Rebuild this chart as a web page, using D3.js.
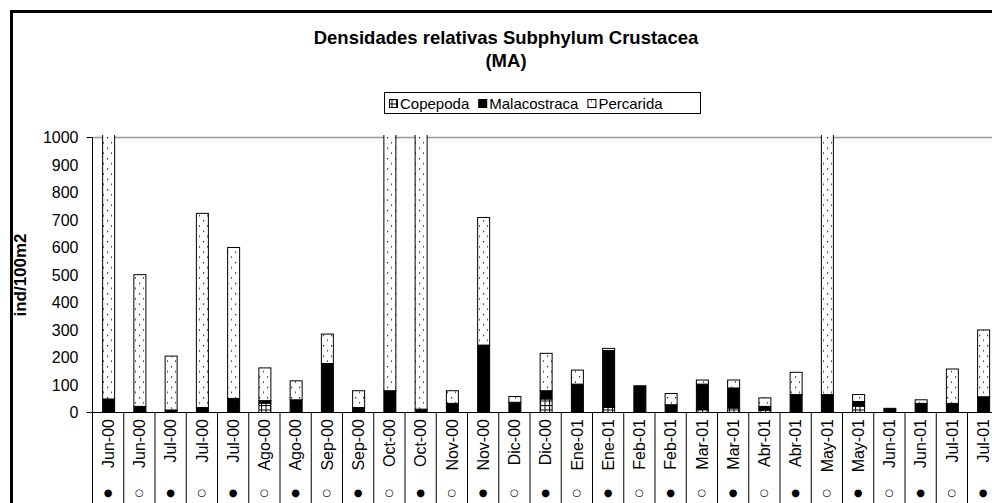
<!DOCTYPE html>
<html><head><meta charset="utf-8">
<script src="https://cdn.jsdelivr.net/npm/d3@7"></script>
<style>
html,body{margin:0;padding:0;background:#fff;}
svg{display:block;}
text{font-family:"Liberation Sans",Arial,sans-serif;fill:#000;}
</style></head>
<body>
<svg id="chart" width="992" height="503"></svg>
<script>
const categories = ["Jun-00","Jun-00","Jul-00","Jul-00","Jul-00","Ago-00","Ago-00","Sep-00","Sep-00","Oct-00","Oct-00","Nov-00","Nov-00","Dic-00","Dic-00","Ene-01","Ene-01","Feb-01","Feb-01","Mar-01","Mar-01","Abr-01","Abr-01","May-01","May-01","Jun-01","Jun-01","Jul-01","Jul-01"];
const markers = ["●","○","●","○","●","○","●","○","●","○","●","○","●","○","●","○","●","○","●","○","●","○","●","○","●","○","●","○","●"];
const copepoda =     [0,6,0,0,0,36,0,0,0,0,0,0,0,0,51,0,20,0,0,13,18,11,0,0,25,0,0,0,0];
const malacostraca = [51,18,11,20,53,9,48,180,20,81,14,35,247,39,30,105,207,99,30,92,73,13,67,67,17,17,35,35,59];
const percarida =    [1950,479,196,706,549,119,69,107,61,1900,1900,46,464,21,136,51,8,0,41,15,29,31,81,1900,25,0,13,125,243];
const seriesNames = ["Copepoda","Malacostraca","Percarida"];
const yTicks = [0,100,200,300,400,500,600,700,800,900,1000];

(function(){
const svg = d3.select("#chart");
const W = 992, H = 503;
const pLeft = 92.5, pTop = 137.5, pBottom = 412.5;
const step = 31.25;

const x = d3.scaleBand().domain(d3.range(categories.length))
  .range([pLeft, pLeft + step*categories.length]).paddingInner(0.616).paddingOuter(0.308);
const y = d3.scaleLinear().domain([0,1000]).range([pBottom, pTop]);

const defs = svg.append("defs");
const pd = defs.append("pattern").attr("id","pDots").attr("patternUnits","userSpaceOnUse")
  .attr("width",8).attr("height",10.4);
pd.append("rect").attr("width",8).attr("height",10.4).attr("fill","#fff");
pd.append("rect").attr("x",3).attr("y",2).attr("width",1.2).attr("height",1.2).attr("fill","#000");
pd.append("rect").attr("x",7).attr("y",7).attr("width",1.2).attr("height",1.2).attr("fill","#000");
const pg = defs.append("pattern").attr("id","pGrid").attr("patternUnits","userSpaceOnUse")
  .attr("width",4.5).attr("height",4.5);
pg.append("rect").attr("width",4.5).attr("height",4.5).attr("fill","#000");
pg.append("rect").attr("x",1).attr("y",1).attr("width",3.5).attr("height",3.5).attr("fill","#fff");
defs.append("clipPath").attr("id","plotClip").append("rect")
  .attr("x",pLeft).attr("y",pTop-2.5).attr("width",W-pLeft).attr("height",pBottom-pTop+2.5);

const fills = ["url(#pGrid)","#000","url(#pDots)"];

svg.append("rect").attr("x",11.5).attr("y",11.5).attr("width",W+20).attr("height",H+20)
  .attr("fill","none").attr("stroke","#000").attr("stroke-width",3);

svg.append("text").attr("x",506).attr("y",44).attr("text-anchor","middle")
  .attr("font-weight","bold").attr("font-size",18.5).text("Densidades relativas Subphylum Crustacea");
svg.append("text").attr("x",506).attr("y",67).attr("text-anchor","middle")
  .attr("font-weight","bold").attr("font-size",18.5).text("(MA)");

const lg = svg.append("g");
lg.append("rect").attr("x",384.5).attr("y",92.5).attr("width",316).attr("height",21)
  .attr("fill","#fff").attr("stroke","#000").attr("stroke-width",1);
let lx = 389;
seriesNames.forEach((n,i)=>{
  lg.append("rect").attr("x",lx+0.5).attr("y",99.5).attr("width",8).attr("height",8)
    .attr("fill",fills[i]).attr("stroke","#000").attr("stroke-width",1);
  const t = lg.append("text").attr("x",lx+11).attr("y",109).attr("font-size",15).text(n);
  lx += 11 + t.node().getComputedTextLength() + 9;
});

svg.append("line").attr("x1",pLeft).attr("x2",W).attr("y1",y(1000)).attr("y2",y(1000))
  .attr("stroke","#999").attr("stroke-width",1.5);

const stackData = categories.map((c,i)=>({i, Copepoda:copepoda[i], Malacostraca:malacostraca[i], Percarida:percarida[i]}));
const stacked = d3.stack().keys(seriesNames)(stackData);
const barsG = svg.append("g").attr("clip-path","url(#plotClip)");
stacked.forEach((s,si)=>{
  barsG.selectAll(null).data(s.filter(d=>d[1]-d[0]>0)).enter().append("rect")
    .attr("x",d=>x(d.data.i)+0.5)
    .attr("y",d=>y(d[1])+0.5)
    .attr("width",x.bandwidth())
    .attr("height",d=>Math.max(0,y(d[0])-y(d[1])))
    .attr("fill",fills[si]).attr("stroke","#000").attr("stroke-width",1);
});

const yAxis = d3.axisLeft(y).tickValues(yTicks).tickFormat(d3.format("d")).tickSize(0).tickPadding(14);
const yg = svg.append("g").attr("transform",`translate(${pLeft},0)`).call(yAxis);
yg.select(".domain").remove();
yg.selectAll("text").attr("font-size",16).style("font-family","'Liberation Sans',Arial,sans-serif");
svg.append("line").attr("x1",pLeft).attr("x2",pLeft).attr("y1",pTop).attr("y2",H).attr("stroke","#000");
svg.append("line").attr("x1",pLeft-6).attr("x2",pLeft).attr("y1",y(1000)).attr("y2",y(1000)).attr("stroke","#000");
svg.append("line").attr("x1",pLeft-6).attr("x2",W).attr("y1",pBottom).attr("y2",pBottom).attr("stroke","#000");

svg.append("text").attr("transform",`translate(26,${(pTop+pBottom)/2}) rotate(-90)`)
  .attr("text-anchor","middle").attr("font-weight","bold").attr("font-size",17).text("ind/100m2");

const xg = svg.append("g");
xg.selectAll("line.sep").data(d3.range(categories.length+1)).enter().append("line")
  .attr("x1",i=>pLeft+i*step).attr("x2",i=>pLeft+i*step).attr("y1",pBottom).attr("y2",H)
  .attr("stroke","#000");
xg.selectAll("text.lab").data(categories).enter().append("text")
  .attr("transform",(d,i)=>`translate(${x(i)+x.bandwidth()/2},419) rotate(-90)`)
  .attr("text-anchor","end").attr("dy","0.36em").attr("font-size",16).text(d=>d);
xg.selectAll("text.mk").data(markers).enter().append("text")
  .attr("x",(d,i)=>x(i)+x.bandwidth()/2).attr("y",496)
  .attr("text-anchor","middle").attr("font-size",10)
  .style("font-family","'DejaVu Sans',sans-serif").text(d=>d);
})();
</script>
</body></html>
